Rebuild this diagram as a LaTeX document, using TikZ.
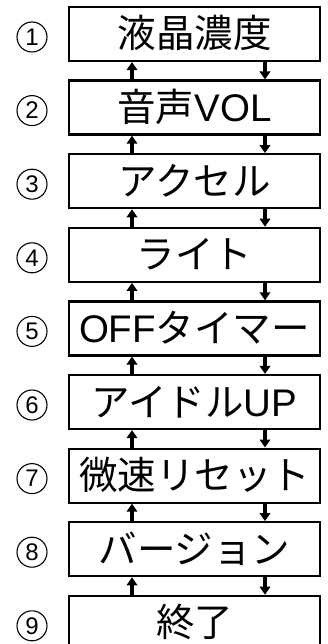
\documentclass[tikz,border=0pt]{standalone}
\usepackage{fontspec}
\setmainfont{Liberation Sans}
\newfontfamily\jp{Noto Sans CJK JP}
\usetikzlibrary{arrows.meta,calc}
\begin{document}
\begin{tikzpicture}[x=1pt,y=-1pt,
  menubox/.style={draw,line width=2.2pt,minimum width=251pt,minimum height=54pt,inner sep=0pt},
  menutext/.style={anchor=base,inner sep=0pt,font=\fontsize{38.5}{40}\selectfont},
  numcirc/.style={draw,circle,line width=1.1pt,minimum size=30pt,inner sep=0pt,font=\fontsize{24}{24}\selectfont},
  arr/.style={line width=3.4pt,-{Triangle[width=10.5pt,length=8pt]}}]
\useasboundingbox (0,0) rectangle (327,644);
\coordinate (ux) at (132,0);
\coordinate (dx) at (265,0);
\foreach \k/\t in {1/{\jp 液晶濃度},2/{\jp 音声}VOL,3/{\jp アクセル},4/{\jp ライト},5/OFF{\jp タイマー},6/{\jp アイドル}UP,7/{\jp 微速リセット},8/{\jp バージョン},9/{\jp 終了}}{
  \pgfmathsetmacro{\cy}{34+73.6*(\k-1)}
  \node[menubox] (b\k) at (194.5,\cy) {};
  \node[menutext] (t\k) at (194.5,\cy+14) {\t};
  \node[numcirc] (n\k) at (32,\cy+3) {\k};
}
\foreach \k [evaluate=\k as \n using int(\k+1)] in {1,...,8}{
  \draw[arr] (b\k.south -| dx) -- (b\n.north -| dx);
  \draw[arr] (b\n.north -| ux) -- (b\k.south -| ux);
}
\end{tikzpicture}
\end{document}
